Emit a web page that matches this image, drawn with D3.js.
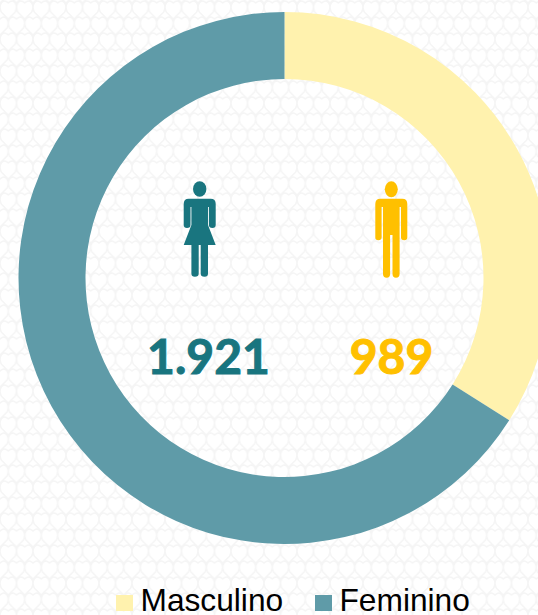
<!DOCTYPE html>
<html>
<head>
<meta charset="utf-8">
<script src="https://cdn.jsdelivr.net/npm/d3@7"></script>
<style>
  html, body { margin: 0; padding: 0; background: #fff; overflow: hidden; }
  svg { display: block; }
</style>
</head>
<body>
<svg></svg>
<script>
const width = 538;
const height = 615;

const categories = ["Masculino", "Feminino"];
const values = [989, 1921];
const labels = ["989", "1.921"];
const colors = ["#fff2ae", "#5f9ba8"];
const iconColors = ["#ffc000", "#19757f"];

let svg = d3.select("svg")
    .attr("width", width)
    .attr("height", height);

// fondo con textura muy clara: corazones en filas alternadas
let pattern = svg.append("defs").append("pattern")
    .attr("id", "fondo")
    .attr("patternUnits", "userSpaceOnUse")
    .attr("width", 16.5)
    .attr("height", 32);

function heart(cx, cy) {
    return `M${cx} ${cy - 5} Q${cx + 4} ${cy - 9} ${cx + 7} ${cy - 5} Q${cx + 9.5} ${cy - 1} ${cx + 7} ${cy + 4} L${cx} ${cy + 11} ` +
           `L${cx - 7} ${cy + 4} Q${cx - 9.5} ${cy - 1} ${cx - 7} ${cy - 5} Q${cx - 4} ${cy - 9} ${cx} ${cy - 5} Z`;
}

pattern.append("path")
    .attr("d", [heart(8.25, 8), heart(8.25, 40), heart(0, 24), heart(16.5, 24), heart(0, -8), heart(16.5, -8)].join(" "))
    .attr("fill", "none")
    .attr("stroke", "#f5f5f5")
    .attr("stroke-width", 1.5);

svg.append("rect")
    .attr("width", width)
    .attr("height", height)
    .attr("fill", "url(#fondo)");

// dona
let pie = d3.pie().sort(null)(values);
let arc = d3.arc()
    .innerRadius(199)
    .outerRadius(266);

let chart = svg.append("g")
    .attr("transform", "translate(284.5, 278)");

chart.selectAll("path")
    .data(pie)
    .join("path")
    .attr("d", arc)
    .attr("fill", (d, i) => colors[i]);

// figuras: dibujadas alrededor de (0, 0)
function drawMan(g) {
    g.append("ellipse").attr("cx", 0).attr("cy", -40.7).attr("rx", 6.5).attr("ry", 8);
    g.append("path").attr("d", "M-11 -31.3 Q-16 -31.3 -16 -26 L-16 7.5 Q-16 10.3 -13 10.3 Q-9.7 10.3 -9.7 7.5 L-9.7 -23 L-8.3 -23 L-8.3 44 Q-8.3 47.7 -4.7 47.7 Q-1.2 47.7 -1.2 44 L-1.2 5 L1.2 5 L1.2 44 Q1.2 47.7 4.7 47.7 Q8.3 47.7 8.3 44 L8.3 -23 L9.7 -23 L9.7 7.5 Q9.7 10.3 13 10.3 Q16 10.3 16 7.5 L16 -26 Q16 -31.3 11 -31.3 Z");
}

function drawWoman(g) {
    g.append("ellipse").attr("cx", 0).attr("cy", -41).attr("rx", 6.7).attr("ry", 7.7);
    g.append("path").attr("d", "M-11 -31.3 Q-16 -31.3 -16 -26 L-16 -5 Q-16 -2 -12.7 -2 Q-9.2 -2 -9.2 -5 L-9.2 -23 L-8.3 -23 L-8.3 -5 L-16 15 L-8.3 15 L-8.3 43.5 Q-8.3 46.7 -4.8 46.7 Q-1 46.7 -1 43.5 L-1 15 L1 15 L1 43.5 Q1 46.7 4.8 46.7 Q8.3 46.7 8.3 43.5 L8.3 15 L16 15 L8.3 -5 L8.3 -23 L9.2 -23 L9.2 -5 Q9.2 -2 12.7 -2 Q16 -2 16 -5 L16 -26 Q16 -31.3 11 -31.3 Z");
}

let man = svg.append("g")
    .attr("transform", "translate(391.3, 230)")
    .style("fill", iconColors[0]);
drawMan(man);

let woman = svg.append("g")
    .attr("transform", "translate(199.7, 230)")
    .style("fill", iconColors[1]);
drawWoman(woman);

// numeros
const labelX = [391.5, 208.5];

labels.forEach((t, i) => {
    svg.append("text")
        .attr("x", labelX[i]).attr("y", 374)
        .attr("text-anchor", "middle")
        .style("font-family", "Lato")
        .style("font-weight", 700)
        .style("font-size", "48px")
        .style("fill", iconColors[i])
        .style("stroke", iconColors[i])
        .style("stroke-width", 1)
        .text(t);
});

// leyenda
const legendX = [116, 315];
const legendText = [140.5, 339.5];

categories.forEach((c, i) => {
    svg.append("rect")
        .attr("x", legendX[i]).attr("y", 595)
        .attr("width", 17).attr("height", 16)
        .attr("fill", colors[i]);
    svg.append("text")
        .attr("x", legendText[i]).attr("y", 611)
        .style("font-family", "Liberation Sans")
        .style("font-size", "31.7px")
        .style("fill", "#000")
        .text(c);
});
</script>
</body>
</html>
